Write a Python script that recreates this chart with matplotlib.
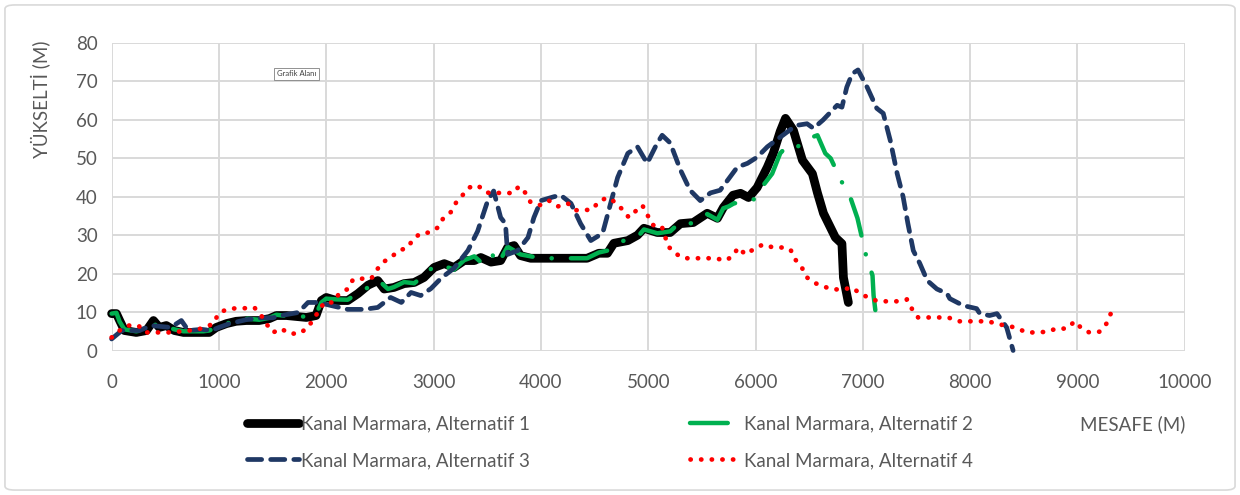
import matplotlib
matplotlib.use("Agg")
import matplotlib.pyplot as plt
from matplotlib.patches import FancyBboxPatch

plt.rcParams['font.family'] = ['Lato', 'DejaVu Sans']

# Kanal Marmara, Alternatif 1
alt1_x = [0, 45, 75, 120, 230, 325, 390, 445, 510, 585, 670, 760, 855, 910, 975, 1070, 1160,
          1255, 1375, 1470, 1535, 1630, 1815, 1905, 1955, 2000, 2095, 2200, 2295, 2390, 2480,
          2540, 2630, 2725, 2820, 2910, 3005, 3100, 3190, 3285, 3380, 3440, 3535, 3625, 3690,
          3750, 3810, 3905, 4000, 4310, 4430, 4540, 4620, 4680, 4810, 4900, 4960, 5085, 5205,
          5300, 5420, 5550, 5645, 5700, 5790, 5860, 5935, 6015, 6110, 6165, 6230, 6279, 6353,
          6437, 6530, 6577, 6633, 6744, 6805, 6819, 6865]
alt1_y = [9.6, 9.6, 7.8, 5.2, 4.7, 5.2, 7.8, 6.0, 6.5, 5.2, 4.7, 4.7, 4.7, 4.7, 6.0, 7.0, 7.6,
          7.8, 7.8, 8.3, 9.1, 9.1, 8.6, 9.1, 13.0, 13.8, 13.0, 13.0, 14.8, 17.0, 18.2,
          16.0, 16.4, 17.4, 17.7, 19.0, 21.6, 22.6, 21.6, 23.4, 23.4, 24.2, 23.0, 23.4, 26.8,
          27.3, 24.7, 24.0, 24.0, 24.0, 24.0, 25.3, 25.3, 27.9, 28.6, 30.0, 31.8, 30.7, 30.7,
          33.0, 33.3, 35.7, 34.4, 37.2, 40.4, 40.9, 39.8, 42.4, 47.7, 51.3, 57.0, 60.4, 57.3,
          49.5, 46.0, 41.0, 35.7, 29.4, 27.8, 19.0, 12.5]

# Kanal Marmara, Alternatif 2
alt2_x = [0, 45, 75, 120, 230, 325, 390, 445, 510, 585, 670, 760, 855, 910, 975, 1070, 1160,
          1255, 1375, 1470, 1535, 1630, 1815, 1905, 1955, 2000, 2095, 2200, 2295, 2390, 2490,
          2575, 2630, 2725, 2820, 2910, 3005, 3100, 3190, 3285, 3380, 3440, 3535, 3600, 3690,
          3750, 3810, 3905, 4000, 4310, 4430, 4540, 4620, 4680, 4810, 4900, 4960, 5085, 5205,
          5300, 5420, 5550, 5645, 5700, 5750, 5800, 5900, 6000, 6045, 6155, 6230, 6300, 6390,
          6447, 6577, 6650, 6700, 6805, 6890, 6950, 7030, 7090, 7100, 7130]
alt2_y = [9.6, 9.8, 7.5, 5.5, 5.0, 5.5, 7.0, 6.0, 6.3, 5.5, 5.0, 5.0, 5.0, 5.2, 6.0, 7.0, 7.8,
          8.3, 8.0, 8.5, 9.3, 9.0, 8.8, 9.5, 12.5, 13.5, 13.3, 13.2, 15.0, 16.4, 18.2,
          16.0, 16.5, 17.8, 17.5, 19.5, 22.0, 22.0, 21.0, 23.5, 24.5, 23.0, 25.5, 22.5, 27.0,
          26.0, 25.0, 24.5, 24.0, 24.0, 24.0, 25.5, 26.0, 27.5, 29.0, 29.5, 31.5, 30.5, 31.0,
          33.5, 33.0, 35.5, 34.0, 37.0, 37.5, 38.3, 38.5, 39.5, 42.0, 46.0, 51.3, 53.4, 52.9,
          54.7, 56.0, 51.3, 50.0, 43.8, 39.3, 34.4, 24.7, 19.5, 14.3, 7.3]

# Kanal Marmara, Alternatif 3
alt3_x = [0, 95, 260, 370, 550, 650, 715, 840, 930, 1000, 1100, 1250, 1400, 1500, 1580, 1740,
          1830, 1925, 2045, 2200, 2350, 2480, 2600, 2700, 2790, 2880, 2975, 3070, 3190, 3320,
          3410, 3505, 3560, 3625, 3670, 3690, 3785, 3880, 3935, 4000, 4120, 4185, 4280, 4370,
          4465, 4575, 4650, 4715, 4810, 4900, 4990, 5085, 5130, 5205, 5300, 5390, 5485, 5580,
          5670, 5740, 5830, 5925, 6015, 6110, 6230, 6350, 6390, 6480, 6540, 6630, 6760, 6805,
          6850, 6900, 6955, 7040, 7130, 7190, 7255, 7320, 7375, 7420, 7470, 7530, 7600, 7690,
          7785, 7810, 7935, 8060, 8090, 8180, 8250, 8340, 8400]
alt3_y = [3.0, 5.2, 5.2, 6.5, 6.0, 7.8, 5.2, 5.5, 5.2, 6.0, 7.0, 8.0, 8.5, 8.5, 9.1, 9.9,
          12.5, 12.5, 11.7, 10.7, 10.7, 11.2, 13.8, 12.5, 15.1, 14.3, 16.1, 18.8, 21.4, 26.0,
          31.0, 39.0, 41.5, 34.6, 33.0, 25.0, 26.0, 29.4, 34.6, 39.0, 40.0, 40.4, 38.3, 33.0,
          28.6, 30.5, 38.3, 45.0, 51.3, 53.0, 48.7, 54.0, 56.0, 54.0, 47.0, 41.7, 39.0, 41.0,
          41.7, 44.3, 47.7, 48.7, 50.3, 53.0, 55.5, 58.0, 58.6, 59.0, 57.8, 60.0, 63.8, 63.3,
          68.5, 72.0, 73.0, 68.5, 63.0, 61.7, 54.7, 46.0, 40.0, 33.0, 26.0, 22.7, 18.2, 16.0,
          14.8, 13.5, 11.7, 10.9, 9.6, 9.1, 9.6, 6.0, 0.0]

# Kanal Marmara, Alternatif 4
alt4_x = [0, 75, 160, 250, 310, 400, 490, 585, 680, 770, 865, 950, 995, 1070, 1160, 1240, 1330,
          1395, 1440, 1505, 1580, 1655, 1750, 1830, 1890, 1935, 1980, 2065, 2120, 2200, 2250,
          2340, 2420, 2465, 2530, 2600, 2680, 2760, 2810, 2880, 2960, 3040, 3090, 3160, 3210,
          3270, 3330, 3410, 3490, 3570, 3650, 3740, 3795, 3860, 3905, 4000, 4075, 4160, 4250,
          4325, 4400, 4480, 4540, 4620, 4680, 4760, 4820, 4880, 4945, 4990, 5040, 5085, 5130,
          5160, 5190, 5250, 5330, 5420, 5515, 5625, 5720, 5785, 5840, 5905, 5980, 6070, 6165,
          6250, 6325, 6370, 6435, 6480, 6540, 6630, 6715, 6820, 6900, 6975, 7050, 7140, 7235,
          7330, 7410, 7460, 7515, 7610, 7700, 7795, 7890, 7980, 8075, 8170, 8260, 8350, 8445,
          8525, 8620, 8725, 8800, 8900, 8975, 9040, 9110, 9205, 9270, 9310]
alt4_y = [3.4, 5.2, 6.5, 6.5, 4.7, 4.7, 4.7, 4.7, 5.2, 5.2, 6.0, 7.0, 9.6, 10.7, 11.0, 11.0, 11.2,
          9.1, 7.0, 4.7, 5.7, 4.4, 4.4, 6.0, 8.6, 10.4, 12.5, 12.5, 14.8, 16.0, 18.5,
          18.7, 18.7, 20.8, 23.0, 24.2, 26.0, 26.8, 29.0, 30.5, 30.7, 32.0, 34.4, 36.0, 38.5,
          40.4, 42.4, 43.0, 41.1, 40.9, 41.1, 40.9, 42.7, 40.9, 38.5, 37.8, 39.0, 37.5, 38.3,
          36.5, 36.5, 36.7, 38.8, 39.8, 38.8, 36.7, 34.6, 36.2, 37.8, 35.4, 32.8, 31.8, 32.0,
          29.4, 27.0, 25.3, 24.0, 24.0, 24.0, 24.0, 23.4, 24.5, 26.8, 25.0, 26.3, 27.6, 26.8,
          26.8, 26.3, 23.7, 21.4, 19.0, 17.7, 16.7, 15.9, 15.9, 16.4, 14.8, 13.8, 12.8, 12.8,
          12.8, 13.3, 10.7, 8.6, 8.6, 8.6, 8.6, 7.6, 7.6, 7.6, 7.6, 6.8, 6.5, 5.7,
          4.7, 4.7, 4.9, 5.7, 5.7, 7.6, 5.7, 4.7, 4.9, 7.0, 9.6]

labels = ['Kanal Marmara, Alternatif 1', 'Kanal Marmara, Alternatif 2',
          'Kanal Marmara, Alternatif 3', 'Kanal Marmara, Alternatif 4']
x_ticks = [0, 1000, 2000, 3000, 4000, 5000, 6000, 7000, 8000, 9000, 10000]
y_ticks = [0, 10, 20, 30, 40, 50, 60, 70, 80]

txt = '#595959'
grid = '#d9d9d9'

fig = plt.figure(figsize=(12.4, 4.95), dpi=100)
ax = fig.add_axes([0.09, 0.2919, 0.8655, 0.6212])

# Excel-like line looks: heavy solid, dash-dot, dashed, round dots
styles = [
    dict(color='black', lw=6.3, ls='-', solid_capstyle='round', solid_joinstyle='round'),
    dict(color='#00b050', lw=3.2, ls=(0, (8.5, 4.3, 0.05, 4.3)), dash_capstyle='round', dash_joinstyle='round'),
    dict(color='#1f3864', lw=3.4, ls=(0, (3.0, 1.9)), dash_capstyle='round', dash_joinstyle='round'),
    dict(color='#ff0000', lw=3.4, ls=(0, (0.05, 2.2)), dash_capstyle='round', dash_joinstyle='round'),
]
data = [(alt1_x, alt1_y), (alt2_x, alt2_y), (alt3_x, alt3_y), (alt4_x, alt4_y)]
handles = []
for (xs, ys), st, lab in zip(data, styles, labels):
    line, = ax.plot(xs, ys, label=lab, clip_on=False, **st)
    handles.append(line)

ax.set_xlim(0, 10000)
ax.set_ylim(0, 80)
ax.set_xticks(x_ticks)
ax.set_yticks(y_ticks)
ax.grid(True, color=grid, lw=1.4)
ax.set_axisbelow(True)
for s in ax.spines.values():
    s.set_visible(False)
ax.tick_params(length=0, labelsize=13.5, labelcolor=txt)
ax.tick_params(axis='x', pad=17)
ax.tick_params(axis='y', pad=10)

fig.text(0.033, 0.80, 'YÜKSELTİ (M)', rotation=90, ha='center', va='center',
         fontsize=13.5, color=txt)
fig.text(0.956, 0.143, 'MESAFE (M)', ha='right', va='center', fontsize=13.5, color=txt)

leg = fig.legend([handles[0], handles[2], handles[1], handles[3]],
                 [labels[0], labels[2], labels[1], labels[3]],
                 ncol=2, loc='upper left', bbox_to_anchor=(0.199, 0.161),
                 frameon=False, fontsize=13.5, handlelength=2.8, handletextpad=0.1,
                 columnspacing=8.5, labelspacing=1.05, borderpad=0, borderaxespad=0)
for t in leg.get_texts():
    t.set_color(txt)

fig.text(0.2235, 1 - 74 / 495, 'Grafik Alanı', fontsize=5.5, color='#404040',
         ha='left', va='center',
         bbox=dict(facecolor='white', edgecolor='#808080', lw=0.6, boxstyle='square,pad=0.35'))

fig.patches.append(FancyBboxPatch((0.004, 0.01), 0.992, 0.98, boxstyle='round,pad=0,rounding_size=0.008',
                                  transform=fig.transFigure, facecolor='none',
                                  edgecolor=grid, lw=1.2))

fig.savefig('out.png', dpi=100, facecolor='white')
